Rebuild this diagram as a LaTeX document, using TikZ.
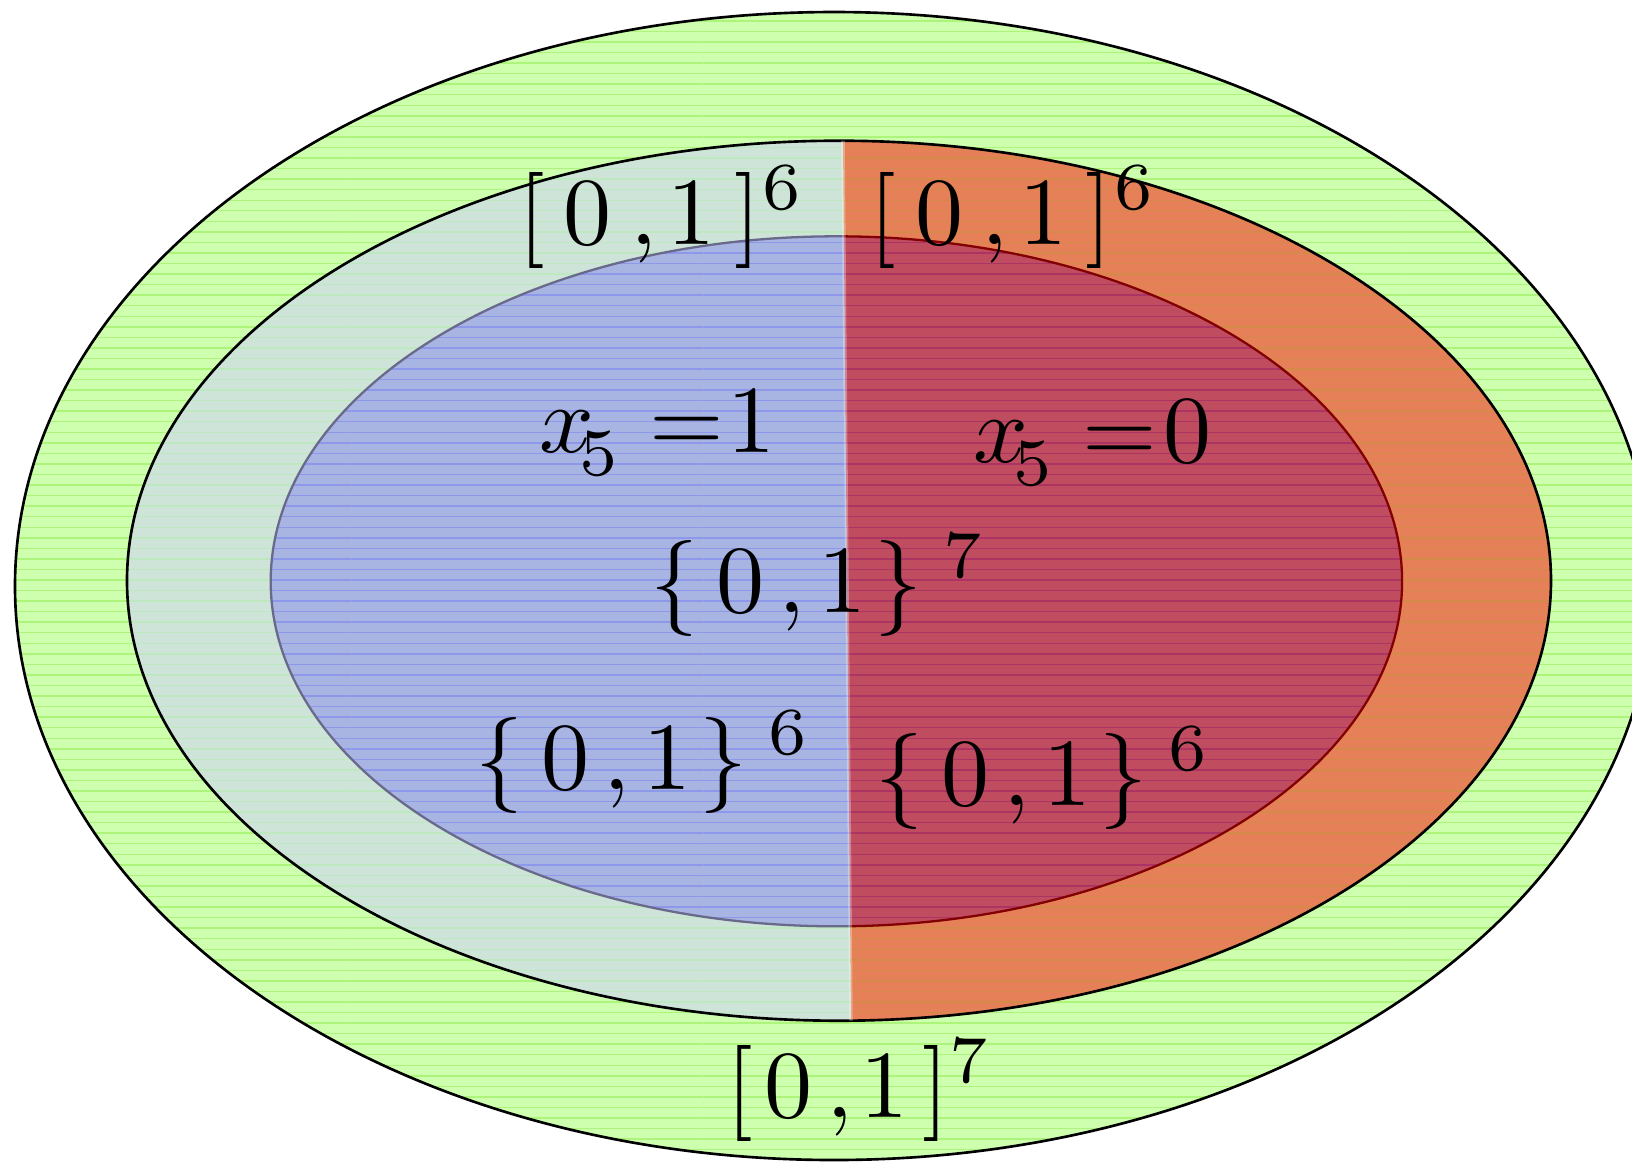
\documentclass[tikz,border=0pt]{standalone}
\usepackage{graphicx}
\usetikzlibrary{patterns}
\definecolor{gbase}{RGB}{205,255,175}
\definecolor{gline}{RGB}{172,244,122}
\definecolor{mlbase}{RGB}{206,228,216}
\definecolor{mlline}{RGB}{190,233,192}
\definecolor{mrbase}{RGB}{229,128,88}
\definecolor{mrline}{RGB}{214,138,74}
\definecolor{ilbase}{RGB}{168,180,226}
\definecolor{illine}{RGB}{142,152,234}
\definecolor{irbase}{RGB}{192,76,96}
\definecolor{irline}{RGB}{172,52,100}
\definecolor{ilborder}{RGB}{105,105,140}
\definecolor{irborder}{RGB}{130,0,0}
\begin{document}
\begin{tikzpicture}[x=0.01cm,y=-0.01cm,
  lbl/.style={inner sep=0pt, anchor=base west},
  rim/.style={line width=0.75pt},
  outerE/.style={x radius=819, y radius=574},
  midE/.style={x radius=712, y radius=440},
  innE/.style={x radius=565.7, y radius=345}]
\useasboundingbox (0,0) rectangle (1632,1162);
\clip (0,0) rectangle (1632,1162);
\coordinate (oc) at (834,586);
\coordinate (mc) at (839,580.7);
\coordinate (ic) at (836.4,581.3);
\coordinate (dt) at (841.7,0);
\coordinate (db) at (852.3,1162);
\coordinate (tl) at (0,0);
\coordinate (tr) at (1632,0);
\coordinate (bl) at (0,1162);
\coordinate (br) at (1632,1162);
% outer
\fill[gbase] (oc) ellipse [outerE];
\fill[pattern=horizontal lines, pattern color=gline] (oc) ellipse [outerE];
\draw[rim] (oc) ellipse [outerE];
% middle
\begin{scope}
  \clip (mc) ellipse [midE];
  \fill[mlbase] (tl) -- (dt) -- (db) -- (bl) -- cycle;
  \fill[pattern=horizontal lines, pattern color=mlline] (tl) -- (dt) -- (db) -- (bl) -- cycle;
  \fill[mrbase] (dt) -- (tr) -- (br) -- (db) -- cycle;
  \fill[pattern=horizontal lines, pattern color=mrline] (dt) -- (tr) -- (br) -- (db) -- cycle;
\end{scope}
\draw[rim] (mc) ellipse [midE];
% inner
\begin{scope}
  \clip (ic) ellipse [innE];
  \fill[ilbase] (tl) -- (dt) -- (db) -- (bl) -- cycle;
  \fill[pattern=horizontal lines, pattern color=illine] (tl) -- (dt) -- (db) -- (bl) -- cycle;
  \fill[irbase] (dt) -- (tr) -- (br) -- (db) -- cycle;
  \fill[pattern=horizontal lines, pattern color=irline] (dt) -- (tr) -- (br) -- (db) -- cycle;
\end{scope}
\begin{scope}
  \clip (tl) -- (dt) -- (db) -- (bl) -- cycle;
  \draw[ilborder, line width=0.65pt] (ic) ellipse [innE];
\end{scope}
\begin{scope}
  \clip (dt) -- (tr) -- (br) -- (db) -- cycle;
  \draw[irborder, line width=0.65pt] (ic) ellipse [innE];
\end{scope}
% light seam
\begin{scope}
  \clip (mc) ellipse [midE];
  \draw[white, opacity=0.3, line width=1pt] (dt) -- (db);
\end{scope}
% labels
\node[lbl] (t6l) at (517.7,244.5) {\scalebox{2.73}{$[\mkern3.5mu 0\mkern3.5mu,\mkern-1mu 1\mkern3.5mu]\mkern0.3mu{}^{6}$}};
\node[lbl] (t6r) at (869.2,244.5) {\scalebox{2.73}{$[\mkern3.5mu 0\mkern3.5mu,\mkern-1mu 1\mkern3.5mu]\mkern0.3mu{}^{6}$}};
\node[lbl] (x1) at (539.2,452) {\scalebox{2.73}{$x^{}_{\mkern-3.5mu 5} =\mkern-4.25mu 1$}};
\node[lbl] (x0) at (972.9,462) {\scalebox{2.73}{$x^{}_{\mkern-3.5mu 5} =\mkern-3.9mu 0$}};
\node[lbl] (b7) at (649.5,612) {\scalebox{2.73}{$\{\mkern3.5mu 0\mkern2.5mu,\mkern-0.5mu 1\mkern1.5mu\}\mkern4mu{}^{7}$}};
\node[lbl] (b6l) at (474.5,789) {\scalebox{2.73}{$\{\mkern3.5mu 0\mkern2.5mu,\mkern-0.5mu 1\mkern1.5mu\}\mkern4mu{}^{6}$}};
\node[lbl] (b6r) at (874.5,805) {\scalebox{2.73}{$\{\mkern3.5mu 0\mkern2.5mu,\mkern-0.5mu 1\mkern1.5mu\}\mkern4mu{}^{6}$}};
\node[lbl] (t7) at (725.4,1117) {\scalebox{2.73}{$[\mkern2.3mu 0\mkern2.5mu,\mkern-1.6mu 1\mkern2.6mu]{}^{7}$}};
\end{tikzpicture}
\end{document}
